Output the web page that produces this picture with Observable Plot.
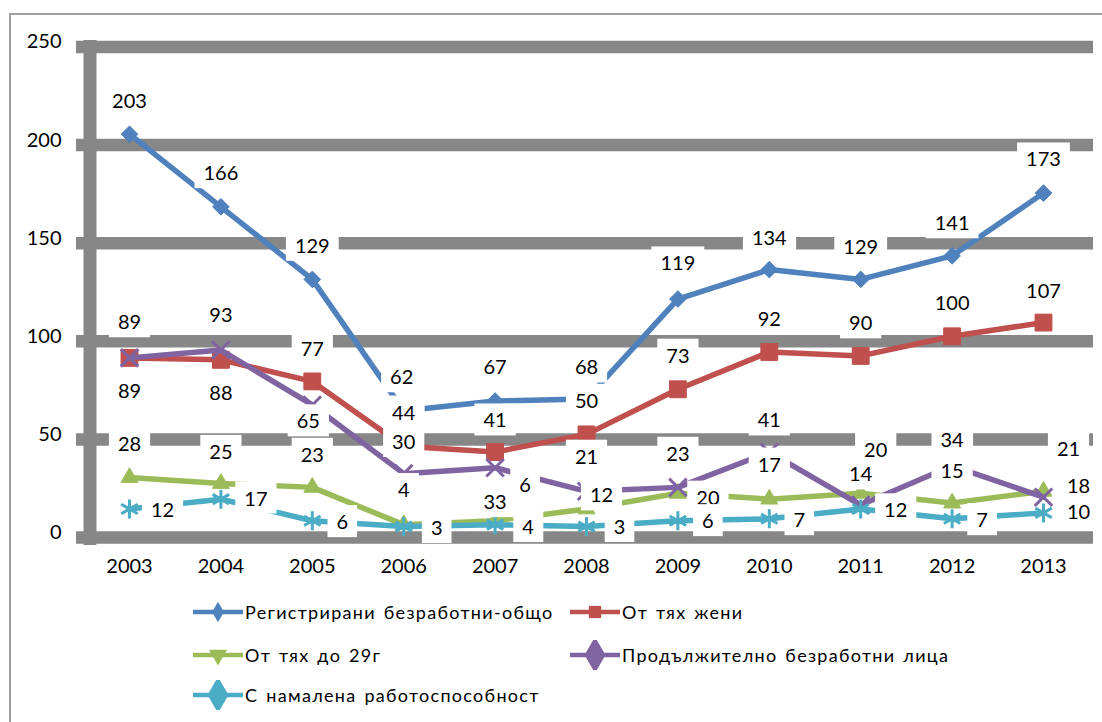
<!DOCTYPE html>
<html>
<head>
<meta charset="utf-8">
<script src="https://cdn.jsdelivr.net/npm/d3@7"></script>
<script src="https://cdn.jsdelivr.net/npm/@observablehq/plot@0.6"></script>
<style>
  html, body { margin: 0; padding: 0; background: #fff; }
  body { width: 1102px; height: 722px; position: relative; overflow: hidden; font-family: Lato, "Open Sans", sans-serif; }
  #border { position: absolute; left: 9px; top: 13px; width: 1200px; height: 800px;
            border-left: 2.5px solid #a0a0a0; border-top: 2.5px solid #a0a0a0; }
  #wrap { position: absolute; left: 0; top: 0; width: 1102px; }
  #legend { position: relative; width: 1102px; height: 132px; }
  .item { position: absolute; display: flex; align-items: center; font-size: 18px;
          letter-spacing: 1.3px; word-spacing: 2px; color: #000; white-space: nowrap; height: 30px; }
  .item svg { display: block; margin-right: 2px; }
</style>
</head>
<body>
<div id="border"></div>
<div id="wrap"><div id="chart"></div><div id="legend"></div></div>
<script>
// ---------- data ----------
const years = [2003, 2004, 2005, 2006, 2007, 2008, 2009, 2010, 2011, 2012, 2013];
const seriesNames = [
  "Регистрирани безработни-общо",
  "От тях жени",
  "От тях до 29г",
  "Продължително безработни лица",
  "С намалена работоспособност"
];
const total    = [203, 166, 129, 62, 67, 68, 119, 134, 129, 141, 173];
const women    = [89, 88, 77, 44, 41, 50, 73, 92, 90, 100, 107];
const youth    = [28, 25, 23, 4, 6, 12, 20, 17, 20, 15, 21];
const longTerm = [89, 93, 65, 30, 33, 21, 23, 41, 14, 34, 18];
const disabled = [12, 17, 6, 3, 4, 3, 6, 7, 12, 7, 10];
const yTicks = [0, 50, 100, 150, 200, 250];

// ---------- styling ----------
const colors  = ["#4F81BD", "#C0504D", "#9BBB59", "#8064A2", "#4BACC6"];
const symbols = ["diamond2", "square", "triangle", "times", "asterisk"];
// label offsets (px) from each point, per series
const labelOffsets = [
  [[0,-38],[0,-38],[0,-38],[-2,-38],[0,-38],[0,-36],[0,-40],[0,-36],[0,-37],[0,-37],[0,-38]],
  [[0,-40],[0,29],[0,-37],[0,-38],[0,-36],[0,-38],[0,-38],[0,-37],[0,-37],[0,-38],[0,-36]],
  [[0,-38],[0,-36],[0,-37],[0,-39],[30,-40],[15,-18],[30,0],[0,-39],[15,-48],[0,-36],[25,-47]],
  [[0,29],[0,-39],[-4,12],[0,-36],[0,30],[0,-39],[0,-38],[0,-36],[0,-35],[0,-30],[35,-16]],
  [[33,-3],[35,-5],[30,-3],[33,-3],[33,-2],[33,-4],[30,-4],[30,-3],[35,-3],[30,-3],[35,-5]]
];
const depthShift = -5; // pseudo-3D lift of lines/markers

const valuesList = [total, women, youth, longTerm, disabled];
const rows = valuesList.flatMap((vals, s) =>
  years.map((year, i) => ({ s, series: seriesNames[s], year, value: vals[i] })));

const marks = [
  Plot.ruleY(yTicks, { stroke: "#878787", strokeWidth: 12.5, strokeOpacity: 1 }),
  Plot.ruleX([years[0]], { dx: -39.5, stroke: "#878787", strokeWidth: 13, strokeOpacity: 1 }),
  Plot.axisY(yTicks, { tickSize: 0, tickPadding: 15, fontSize: 20, dy: -5, label: null, fill: "#000" }),
  Plot.axisX(years, { tickSize: 0, tickPadding: 13, fontSize: 20, tickFormat: d => String(d), label: null, fill: "#000" })
];

valuesList.forEach((vals, s) => {
  const data = rows.filter(d => d.s === s);
  marks.push(Plot.line(data, { x: "year", y: "value", dy: depthShift, stroke: colors[s], strokeWidth: 5.5 }));
  const sym = symbols[s];
  const stroked = sym === "times" || sym === "asterisk";
  const r = { diamond2: 7.5, square: 9.5, triangle: 6.3, times: 8, asterisk: 9 }[sym];
  marks.push(Plot.dot(data, {
    x: "year", y: "value", dy: depthShift, symbol: () => sym, r,
    fill: stroked ? "none" : colors[s], stroke: colors[s], strokeWidth: stroked ? 3 : 1
  }));
});

// labels (one text mark per label so each has its own offset)
rows.forEach(d => {
  const [dx, dy] = labelOffsets[d.s][years.indexOf(d.year)];
  marks.push(Plot.text([d], {
    x: "year", y: "value", text: d => String(d.value), dx, dy,
    fontSize: 20, fill: "#000", className: "vlabel"
  }));
});

const chart = Plot.plot({
  width: 1102,
  height: 590,
  marginLeft: 76,
  marginRight: 9,
  marginTop: 40,
  marginBottom: 45,
  style: { fontFamily: "Lato, 'Open Sans', sans-serif", fontSize: "20px", background: "transparent", color: "#000" },
  x: { type: "linear", domain: [2003, 2013], range: [129, 1043], axis: null },
  y: { domain: [0, 250], range: [537, 46.5], axis: null },
  marks
});
document.getElementById("chart").appendChild(chart);

// white boxes behind value labels (text marks that are not axes)
const labelTexts = Array.from(chart.querySelectorAll("g")).filter(g => {
  const a = g.getAttribute("aria-label") || "";
  return a === "text" || (g.getAttribute("class") || "").includes("vlabel");
}).flatMap(g => Array.from(g.querySelectorAll(":scope > text")));
labelTexts.forEach(t => {
  const b = t.getBBox();
  const rect = document.createElementNS("http://www.w3.org/2000/svg", "rect");
  const px = 9, h = 32;
  const cy = b.y + b.height / 2;
  rect.setAttribute("x", b.x - px);
  rect.setAttribute("y", cy - h / 2);
  rect.setAttribute("width", b.width + 2 * px);
  rect.setAttribute("height", h);
  rect.setAttribute("fill", "#fff");
  const tr = t.getAttribute("transform");
  if (tr) rect.setAttribute("transform", tr);
  t.parentNode.insertBefore(rect, t);
});

// ---------- legend ----------
const legendPos = [
  { left: 193, top: 7 },
  { left: 570, top: 7 },
  { left: 193, top: 50 },
  { left: 570, top: 50 },
  { left: 193, top: 90 }
];
const legendSymbols = ["diamond", "square", "triangle", "diamond", "diamond"];
const legendSizes = [120, 150, 140, 380, 380];
const legend = d3.select("#legend");
seriesNames.forEach((name, s) => {
  const item = legend.append("div").attr("class", "item")
    .style("left", legendPos[s].left + "px").style("top", legendPos[s].top + "px");
  const svg = item.append("svg").attr("width", 50).attr("height", 30);
  svg.append("line").attr("x1", 0).attr("x2", 50).attr("y1", 15).attr("y2", 15)
    .attr("stroke", colors[s]).attr("stroke-width", 4.5).attr("stroke-linecap", "round");
  const symType = { diamond: d3.symbolDiamond, square: d3.symbolSquare, triangle: d3.symbolTriangle }[legendSymbols[s]];
  svg.append("path").attr("transform", `translate(25,15)${legendSymbols[s] === "triangle" ? " rotate(180)" : ""}`)
    .attr("d", d3.symbol(symType, legendSizes[s])())
    .attr("fill", colors[s]);
  item.append("span").text(name);
});
</script>
</body>
</html>
